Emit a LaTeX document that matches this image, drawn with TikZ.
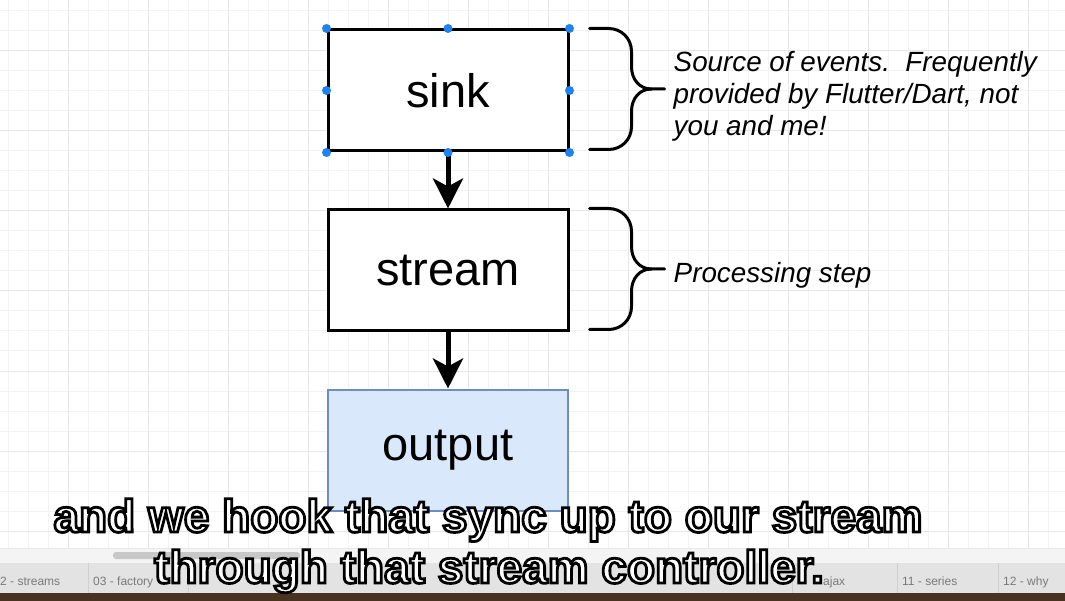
\documentclass[tikz,border=0pt]{standalone}
\usepackage{fontspec}
\setmainfont{Liberation Sans}
\usepackage{tikz}
\usetikzlibrary{calc}
\usetikzlibrary{positioning}
\usetikzlibrary{arrows.meta}

\definecolor{gridminor}{HTML}{F3F3F3}
\definecolor{gridmajor}{HTML}{E7E7E7}
\definecolor{outfill}{HTML}{DAE8FC}
\definecolor{outborder}{HTML}{6C8EBF}
\definecolor{handle}{HTML}{1F82F2}
\definecolor{scrollband}{HTML}{F4F4F4}
\definecolor{scrollthumb}{HTML}{C8C8C8}
\definecolor{tabbar}{HTML}{E3E3E3}
\definecolor{tabsep}{HTML}{CFCFCF}
\definecolor{tabtext}{HTML}{7A7A7A}
\definecolor{desk}{HTML}{4A3222}

% outlined subtitle text: fill white, stroke black
\newcommand{\rimtext}[1]{\special{pdf:literal direct 2 Tr 2.8 w 0 0 0 RG}#1\special{pdf:literal direct 0 Tr}}

\tikzset{
  block/.style={draw=black, line width=3pt, fill=white, minimum width=240pt,
    minimum height=121pt, inner sep=0pt, font=\fontsize{47}{56}\selectfont},
  outblock/.style={block, draw=outborder, line width=2.5pt, fill=outfill},
  flow/.style={line width=5pt, -{Stealth[length=30pt,width=30pt,inset=8pt]}},
  bracestyle/.style={line width=3pt, line cap=round, line join=round},
  note/.style={font=\fontsize{27.8}{32}\selectfont\itshape, align=left, inner sep=0pt},
  subtitle/.style={font=\fontsize{46}{56}\selectfont\bfseries, text=white, inner sep=0pt, anchor=base},
  tablabel/.style={font=\fontsize{12}{15}\selectfont, text=tabtext, inner sep=0pt, anchor=base west},
  sidebrace/.pic={
    \draw[bracestyle] (20,0) -- (39,0) .. controls (52,0) and (62,10) .. (62,23)
      -- (62,38) .. controls (62,51) and (70,60.5) .. (82,60.5) -- (95,60.5);
    \draw[bracestyle] (82,60.5) .. controls (70,60.5) and (62,70) .. (62,83)
      -- (62,98) .. controls (62,111) and (52,121) .. (39,121) -- (20,121);
  }
}

\begin{document}
\begin{tikzpicture}[x=1pt, y=-1pt]
\useasboundingbox (0,0) rectangle (1065,601);
\fill[white] (0,0) rectangle (1065,601);

% grid
\foreach \gx in {8,28,...,1065} \draw[gridminor, line width=1pt] (\gx,0) -- (\gx,548);
\foreach \gy in {11,31,...,548} \draw[gridminor, line width=1pt] (0,\gy) -- (1065,\gy);
\foreach \gx in {68,148,...,1065} \draw[gridmajor, line width=1pt] (\gx,0) -- (\gx,548);
\foreach \gy in {51,131,...,548} \draw[gridmajor, line width=1pt] (0,\gy) -- (1065,\gy);

% boxes
\node[block] (sink) at (448,90.5) {sink};
\node[block, below=56pt of sink] (stream) {stream};
\node[outblock, below=56pt of stream] (output) {output};

\draw[flow] (sink) -- (stream);
\draw[flow] (stream) -- (output);

% selection handles
\foreach \anc in {north west,north,north east,east,south east,south,south west,west}
  \fill[handle] (sink.\anc) circle (4.5pt);

% braces and notes
\pic at (sink.north east) {sidebrace};
\pic at (stream.north east) {sidebrace};
\node[note, right=104pt of sink, yshift=-6pt] (srcnote)
  {Source of events.\ \ Frequently\\provided by Flutter/Dart, not\\you and me!};
\node[note, right=104pt of stream, yshift=-5pt] (stepnote) {Processing step};

% tab bar
\fill[scrollband] (0,548) rectangle (1065,563);
\fill[tabbar] (0,563) rectangle (1065,593);
\draw[gridmajor, line width=1pt] (0,548) -- (1065,548);
\fill[scrollthumb, rounded corners=3pt] (113,552) rectangle (300,559);
\foreach \sx in {88,188,792,897,998} \draw[tabsep, line width=1pt] (\sx,563) -- (\sx,593);
\node[tablabel] (tab02) at (0,585) {2 - streams};
\node[tablabel] (tab03) at (93,585) {03 - factory};
\node[tablabel] (tab10) at (823,585) {ajax};
\node[tablabel] (tab11) at (902,585) {11 - series};
\node[tablabel] (tab12) at (1003,585) {12 - why};
\fill[desk] (0,593) rectangle (1065,601);

% subtitles
\node[subtitle] (subline1) at (488,532) {\rimtext{and we hook that sync up to our stream}};
\node[subtitle] (subline2) at (489,583) {\rimtext{through that stream controller.}};
\end{tikzpicture}
\end{document}
